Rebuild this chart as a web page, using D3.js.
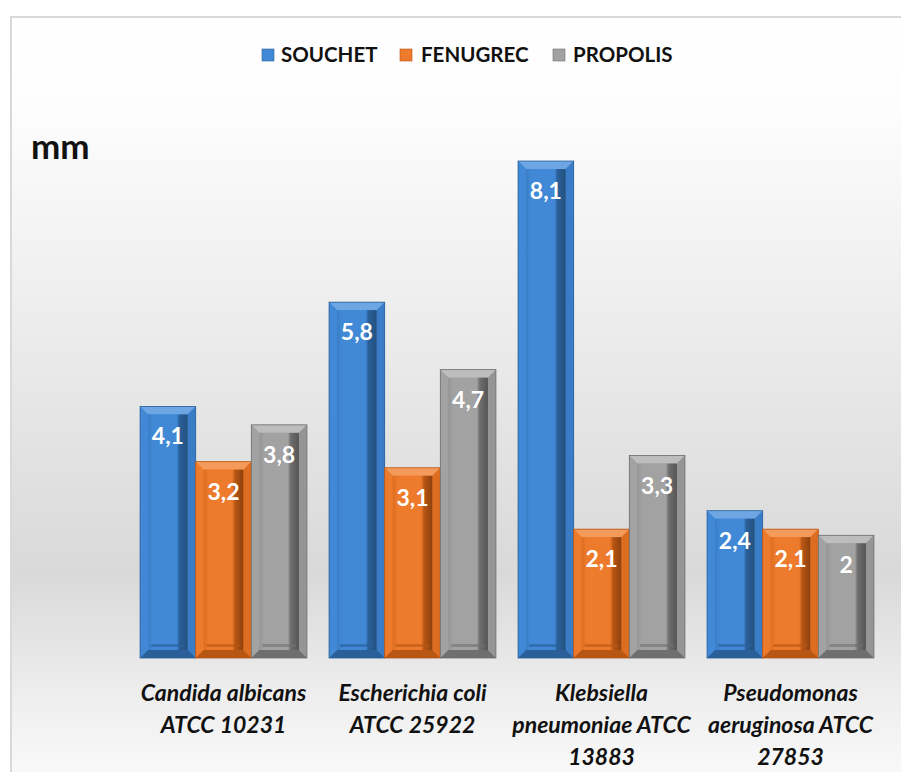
<!DOCTYPE html>
<html><head><meta charset="utf-8">
<script src="https://cdn.jsdelivr.net/npm/d3@7"></script>
<style>
html,body{margin:0;padding:0;background:#fff;}
svg{display:block;}
</style></head>
<body>
<svg id="chart" width="901" height="772"></svg>
<script>
const categories = [
  ["Candida albicans", "ATCC 10231"],
  ["Escherichia coli", "ATCC 25922"],
  ["Klebsiella", "pneumoniae ATCC", "13883"],
  ["Pseudomonas", "aeruginosa ATCC", "27853"]
];
const seriesNames = ["SOUCHET", "FENUGREC", "PROPOLIS"];
const souchet  = [4.1, 5.8, 8.1, 2.4];
const fenugrec = [3.2, 3.1, 2.1, 2.1];
const propolis = [3.8, 4.7, 3.3, 2];
const valueLabels = [
  ["4,1", "5,8", "8,1", "2,4"],
  ["3,2", "3,1", "2,1", "2,1"],
  ["3,8", "4,7", "3,3", "2"]
];
const unitLabel = "mm";

const seriesValues = [souchet, fenugrec, propolis];
const colors = {
  base:  ["#4189d6", "#ee7a2c", "#a2a2a2"],
  light: ["#6ea6e3", "#f49a5a", "#bdbdbd"],
  mid:   ["#3a7dc6", "#dd6d20", "#959595"],
  dark:  ["#2a5f99", "#b85614", "#6f6f6f"],
  deep:  ["#23527f", "#8f410e", "#555555"]
};

const svg = d3.select("#chart");
const W = 901, H = 772;
const defs = svg.append("defs");

const bg = defs.append("linearGradient").attr("id", "bg").attr("x1", 0).attr("y1", 0).attr("x2", 0).attr("y2", 1);
bg.append("stop").attr("offset", "0%").attr("stop-color", "#ffffff");
bg.append("stop").attr("offset", "12%").attr("stop-color", "#fdfdfd");
bg.append("stop").attr("offset", "40%").attr("stop-color", "#ececec");
bg.append("stop").attr("offset", "72%").attr("stop-color", "#d9d9d9");
bg.append("stop").attr("offset", "88%").attr("stop-color", "#eeeeee");
bg.append("stop").attr("offset", "100%").attr("stop-color", "#fbfbfb");

svg.append("rect").attr("x", 0).attr("y", 0).attr("width", W).attr("height", H).attr("fill", "#ffffff");
svg.append("rect").attr("x", 11).attr("y", 17).attr("width", W + 10).attr("height", H)
  .attr("fill", "url(#bg)").attr("stroke", "#d9d9d9").attr("stroke-width", 2);

seriesNames.forEach((s, i) => {
  const g = defs.append("linearGradient").attr("id", "face" + i).attr("x1", 0).attr("y1", 0).attr("x2", 1).attr("y2", 0);
  g.append("stop").attr("offset", "0%").attr("stop-color", colors.mid[i]);
  g.append("stop").attr("offset", "12%").attr("stop-color", colors.base[i]);
  g.append("stop").attr("offset", "72%").attr("stop-color", colors.base[i]);
  g.append("stop").attr("offset", "79%").attr("stop-color", colors.dark[i]);
  g.append("stop").attr("offset", "100%").attr("stop-color", colors.deep[i]);
});

const x0 = d3.scaleBand().domain(d3.range(categories.length)).range([129, 885])
  .paddingInner(0.117).paddingOuter(0.0585);
const x1 = d3.scaleBand().domain(d3.range(seriesNames.length)).range([0, x0.bandwidth()]);
const y = d3.scaleLinear().domain([0, 9]).range([658, 105.8]);

const legendItems = [
  { sq: 262, tx: 281 },
  { sq: 400, tx: 421 },
  { sq: 553, tx: 573 }
];
const legend = svg.append("g");
seriesNames.forEach((s, i) => {
  legend.append("rect").attr("x", legendItems[i].sq).attr("y", 49).attr("width", 12).attr("height", 12)
    .attr("fill", colors.base[i]).attr("stroke", colors.dark[i]).attr("stroke-width", 0.6);
  legend.append("text").attr("x", legendItems[i].tx).attr("y", 62)
    .attr("font-family", "Lato, 'Open Sans', sans-serif").attr("font-weight", "bold")
    .attr("font-size", 20.5).attr("fill", "#111").text(s);
});

svg.append("text").attr("x", 31).attr("y", 159).attr("font-family", "Lato, 'Open Sans', sans-serif")
  .attr("font-weight", "bold").attr("font-size", 35).attr("fill", "#111").text(unitLabel);

const b = 8;
const barsG = svg.append("g");
categories.forEach((c, ci) => {
  seriesNames.forEach((s, si) => {
    const v = seriesValues[si][ci];
    const xa = x0(ci) + x1(si), xb = xa + x1.bandwidth();
    const ya = y(v), yb = y(0);
    const g = barsG.append("g");
    g.append("rect").attr("x", xa).attr("y", ya).attr("width", xb - xa).attr("height", yb - ya)
      .attr("fill", colors.base[si]);
    g.append("polygon").attr("points", [[xa, ya], [xb, ya], [xb - b, ya + b], [xa + b, ya + b]].join(" "))
      .attr("fill", colors.light[si]);
    g.append("polygon").attr("points", [[xa, ya], [xa + b, ya + b], [xa + b, yb - b], [xa, yb]].join(" "))
      .attr("fill", colors.base[si]);
    g.append("polygon").attr("points", [[xb, ya], [xb, yb], [xb - b, yb - b], [xb - b, ya + b]].join(" "))
      .attr("fill", colors.mid[si]);
    g.append("polygon").attr("points", [[xa, yb], [xb, yb], [xb - b, yb - b], [xa + b, yb - b]].join(" "))
      .attr("fill", colors.dark[si]);
    g.append("rect").attr("x", xa + b).attr("y", ya + b).attr("width", xb - xa - 2 * b).attr("height", yb - ya - 2 * b)
      .attr("fill", "url(#face" + si + ")");
    g.append("rect").attr("x", xa + b + 3).attr("y", yb - b - 6).attr("width", xb - xa - 2 * b - 6).attr("height", 3)
      .attr("fill", colors.dark[si]).attr("opacity", 0.6);
    g.append("rect").attr("x", xa).attr("y", ya).attr("width", xb - xa).attr("height", yb - ya)
      .attr("fill", "none").attr("stroke", colors.dark[si]).attr("stroke-width", 0.8);
    g.append("text").attr("x", (xa + xb) / 2).attr("y", ya + 38).attr("text-anchor", "middle")
      .attr("font-family", "Lato, 'Open Sans', sans-serif").attr("font-weight", "bold")
      .attr("font-size", 23).attr("fill", "#ffffff").text(valueLabels[si][ci]);
  });
});

const catG = svg.append("g");
categories.forEach((lines, ci) => {
  const cx = x0(ci) + x0.bandwidth() / 2;
  const t = catG.append("text").attr("text-anchor", "middle")
    .attr("font-family", "Lato, 'Open Sans', sans-serif").attr("font-weight", "bold")
    .attr("font-style", "italic").attr("font-size", 23).attr("fill", "#111");
  lines.forEach((l, li) => {
    t.append("tspan").attr("x", cx).attr("y", 701 + li * 32).text(l);
  });
});
</script>
</body></html>
